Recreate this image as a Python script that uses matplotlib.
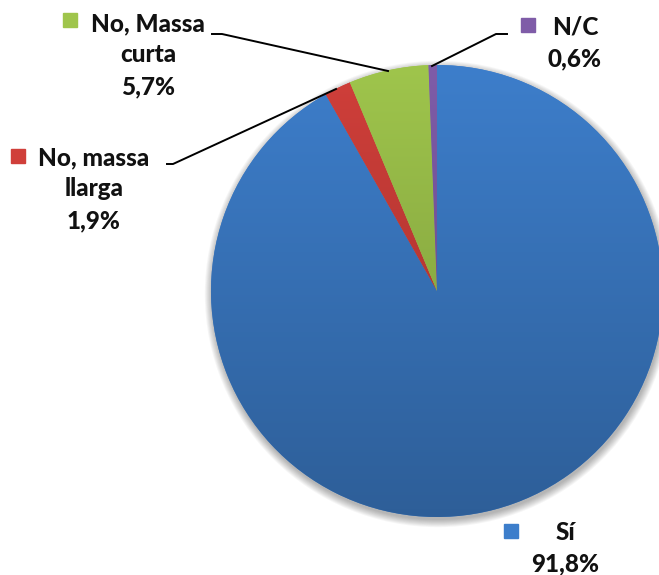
import matplotlib.pyplot as plt
import numpy as np
from matplotlib.colors import to_rgb
from matplotlib.patches import Circle

# Dades
categories = ['Sí', 'No, massa\nllarga', 'No, Massa\ncurta', 'N/C']
percentatges = [91.8, 1.9, 5.7, 0.6]
colors = ['#3D7ECB', '#D03F3A', '#9FC54C', '#7F5CA8']


def format_pct(valor: float) -> str:
    return f'{valor:.1f}'.replace('.', ',') + '%'


fig = plt.figure(figsize=(6.59, 5.75), dpi=100)
ax = fig.add_axes([0, 0, 1, 1])

centre = (437, 291)
radi = 226

# ombra suau sota el pastís
for i in range(9):
    ax.add_patch(Circle((centre[0] + 1, centre[1] + 3), radi + i * 0.9,
                        color='black', alpha=0.035, lw=0, zorder=0))

# eix y invertit: sentit antihorari a les dades = horari a la pantalla
wedges, _ = ax.pie(percentatges, colors=colors, startangle=-90, counterclock=True,
                   center=centre, radius=radi, wedgeprops=dict(linewidth=0),
                   frame=True)

# degradat vertical dins de cada sector
t = np.linspace(0, 1, 256)[:, None, None]
extent = (centre[0] - radi, centre[0] + radi, centre[1] + radi, centre[1] - radi)
for w, col in zip(wedges, colors):
    dalt = np.array(to_rgb(col))
    baix = dalt * 0.75
    grad = dalt * (1 - t) + baix * t
    im = ax.imshow(grad, extent=extent, origin='upper', aspect='auto',
                   interpolation='bilinear', zorder=2)
    im.set_clip_path(w)

ax.set_xlim(0, 659)
ax.set_ylim(575, 0)
ax.set_aspect('equal')
ax.axis('off')

# posicions de les etiquetes (centre del text, quadrat de llegenda)
pos_text = [(565, 548), (94, 189), (148, 55), (575, 43)]
pos_quadrat = [(511, 531), (18, 156), (70, 20), (528, 25)]

for cat, pct, col, pt, pq in zip(categories, percentatges, colors, pos_text, pos_quadrat):
    ax.text(pt[0], pt[1], f'{cat}\n{format_pct(pct)}', ha='center', va='center',
            fontsize=17.5, fontweight='black', family='Lato', linespacing=1.45,
            color='#111111', zorder=5)
    ax.plot(pq[0], pq[1], marker='s', ms=10.5, color=col, ls='none', zorder=5)

# línies guia
ax.plot([167, 173, 336], [164, 164, 89], color='black', lw=1.4, zorder=5)
ax.plot([212, 222, 388], [34, 34, 71], color='black', lw=1.4, zorder=5)
ax.plot([507, 496, 432], [34, 34, 66], color='black', lw=1.4, zorder=5)

fig.savefig('out.png', dpi=100)
